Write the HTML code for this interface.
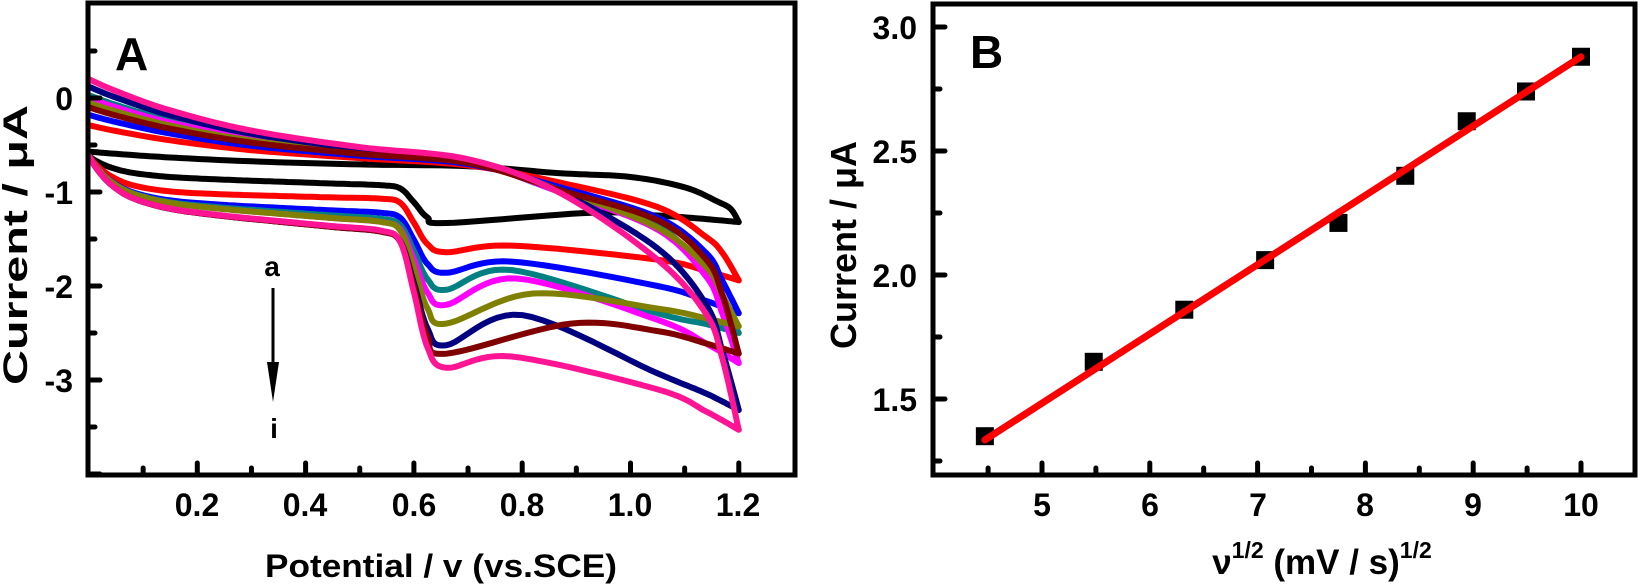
<!DOCTYPE html>
<html><head><meta charset="utf-8"><style>
html,body{margin:0;padding:0;background:#fff}
svg{display:block}
text{font-family:"Liberation Sans",Arial,sans-serif;font-weight:bold;fill:#000}
</style></head><body>
<svg id="s" width="1641" height="586" viewBox="0 0 1641 586" xmlns="http://www.w3.org/2000/svg">
<g id="curves" fill="none" stroke-width="6" stroke-linejoin="round" stroke-linecap="round"></g>
<rect x="88" y="3" width="707" height="472" fill="none" stroke="#000" stroke-width="5"/>
<g id="ticksA" stroke="#000" stroke-width="5" stroke-linecap="round"></g>
<g font-size="32" text-anchor="end">
<text x="73" y="110">0</text><text x="73" y="204">-1</text><text x="73" y="298">-2</text><text x="73" y="392">-3</text>
</g>
<g font-size="32" text-anchor="middle">
<text x="197" y="516">0.2</text><text x="305" y="516">0.4</text><text x="414" y="516">0.6</text><text x="522" y="516">0.8</text><text x="630" y="516">1.0</text><text x="738" y="516">1.2</text>
</g>
<text x="265" y="577" font-size="32" textLength="352" lengthAdjust="spacingAndGlyphs">Potential / v (vs.SCE)</text>
<text transform="translate(27,385) rotate(-90)" font-size="34" textLength="280" lengthAdjust="spacingAndGlyphs">Current / μA</text>
<text x="115" y="70" font-size="46">A</text>
<text x="272" y="276" font-size="28" text-anchor="middle">a</text>
<line x1="273" y1="288" x2="273" y2="372" stroke="#000" stroke-width="3"/>
<polygon points="267,362 279,362 273,402" fill="#000"/>
<text x="274" y="438" font-size="28" text-anchor="middle">i</text>

<rect x="933" y="4" width="702" height="471" fill="none" stroke="#000" stroke-width="5"/>
<g id="ticksB" stroke="#000" stroke-width="5" stroke-linecap="round"></g>
<g font-size="32" text-anchor="end">
<text x="917" y="411">1.5</text><text x="917" y="287">2.0</text><text x="917" y="163">2.5</text><text x="917" y="39">3.0</text>
</g>
<g font-size="32" text-anchor="middle">
<text x="1042" y="516">5</text><text x="1150" y="516">6</text><text x="1258" y="516">7</text><text x="1365" y="516">8</text><text x="1473" y="516">9</text><text x="1581" y="516">10</text>
</g>
<text x="1322" y="574" font-size="35" text-anchor="middle">ν<tspan font-size="23" dy="-16">1/2</tspan><tspan dy="16"> (mV / s)</tspan><tspan font-size="23" dy="-16">1/2</tspan></text>
<text transform="translate(856,245) rotate(-90)" font-size="36" text-anchor="middle">Current / μA</text>
<text x="970" y="68" font-size="46">B</text>
<g id="ptsB"></g>
</svg>
<script>
var NS="http://www.w3.org/2000/svg";
function el(tag,attrs,parent){var e=document.createElementNS(NS,tag);for(var k in attrs)e.setAttribute(k,attrs[k]);parent.appendChild(e);return e;}
function AX(v){return 89+v*541.5;} function AY(v){return 98-v*94;}
var tA=document.getElementById('ticksA');
for(var i=1;i<=12;i++){var x=AX(i*0.1);var L=(i%2==0)?12:7;el('line',{x1:x,y1:475,x2:x,y2:475-L},tA);}
for(var v=0.5;v>=-4.0;v-=0.5){var y=AY(v);var L=(Math.abs(v-Math.round(v))<0.01)?12:7;el('line',{x1:88,y1:y,x2:88+L,y2:y},tA);}
function spline(pts,n){var out=[];for(var i=0;i<pts.length-1;i++){var p0=pts[Math.max(0,i-1)],p1=pts[i],p2=pts[i+1],p3=pts[Math.min(pts.length-1,i+2)];
for(var t=0;t<n;t++){var s=t/n,s2=s*s,s3=s2*s;
var x=0.5*((2*p1[0])+(-p0[0]+p2[0])*s+(2*p0[0]-5*p1[0]+4*p2[0]-p3[0])*s2+(-p0[0]+3*p1[0]-3*p2[0]+p3[0])*s3);
var y=0.5*((2*p1[1])+(-p0[1]+p2[1])*s+(2*p0[1]-5*p1[1]+4*p2[1]-p3[1])*s2+(-p0[1]+3*p1[1]-3*p2[1]+p3[1])*s3);out.push([x,y]);}}
out.push(pts[pts.length-1]);return out;}
var C=[
 {c:'#000000',T0:-0.57,A:0.2,S:0.2,mn:-1.33,xh:0.93,h:-1.22,v105:-1.25,e:-1.32,black:1},
 {c:'#ff0000',T0:-0.29,A:0.37,S:0.15,mn:-1.64,xh:0.78,h:-1.57,v105:-1.72,e:-1.94,u87:-0.9,u105:-1.16,u114:-1.48,u117:-1.65},
 {c:'#0000ff',T0:-0.18,A:0.45,S:0.28,mn:-1.86,xh:0.78,h:-1.74,v105:-2.0,e:-2.29,u87:-0.95,u105:-1.27,u114:-1.65,u117:-1.95},
 {c:'#008080',T0:0.03,A:0.45,S:0.4,mn:-2.04,xh:0.78,h:-1.83,v105:-2.29,e:-2.5,u87:-1.0,u105:-1.35,u114:-1.9,u117:-2.2},
 {c:'#ff00ff',T0:0.0,A:0.45,S:0.46,mn:-2.2,xh:0.79,h:-1.92,v105:-2.36,e:-2.82,u87:-1.0,u105:-1.4,u114:-1.9,u117:-2.3},
 {c:'#808000',T0:-0.05,A:0.45,S:0.46,mn:-2.4,xh:0.82,h:-2.08,v105:-2.24,e:-2.43,u87:-0.98,u105:-1.38,u114:-1.8,u117:-2.1},
 {c:'#000080',T0:0.12,A:0.5,S:0.56,mn:-2.63,xh:0.8,h:-2.31,v105:-2.93,e:-3.32,u87:-1.0,u105:-1.6,u114:-2.2,u117:-2.7},
 {c:'#800000',T0:-0.1,A:0.5,S:0.56,mn:-2.72,xh:0.89,h:-2.4,v105:-2.48,e:-2.72,u87:-0.98,u105:-1.3,u114:-1.72,u117:-2.1},
 {c:'#ff1493',T0:0.2,A:0.5,S:0.54,mn:-2.87,xh:0.78,h:-2.75,v105:-3.1,e:-3.53,u87:-1.01,u105:-1.72,u114:-2.3,u117:-2.78}
];
var g=document.getElementById('curves');
C.forEach(function(k){
 function L0(x){return -0.62-k.A*(1-Math.exp(-x/0.05))-k.S*x;}
 var l54=L0(0.54),D=l54-k.mn;
 var lp=[[0,L0(0)],[0.015,L0(0.015)],[0.04,L0(0.04)],[0.08,L0(0.08)],[0.15,L0(0.15)],[0.25,L0(0.25)],[0.35,L0(0.35)],[0.45,L0(0.45)],[0.54,l54],
   [0.575,L0(0.575)-0.07*D],[0.6,l54-0.45*D],[0.625,l54-0.85*D],[0.66,k.mn],
   [k.xh,k.h],[1.05,k.v105],[1.14,k.v105+(k.e-k.v105)*0.55],[1.2,k.e]];
 var pts=spline(lp,12);
 function U(x){return -0.75+(k.T0+0.75)*Math.exp(-x/0.35);}
 var up;
 if(k.black){up=[[1.2,k.e],[1.185,-1.18],[1.16,-1.1],[1.1,-0.95],[1.0,-0.84],[0.87,-0.8],[0.7,U(0.7)],[0.5,U(0.5)],[0.3,U(0.3)],[0.15,U(0.15)],[0.05,U(0.05)],[0,k.T0]];}
 else up=[[1.2,k.e],[1.17,k.u117],[1.14,k.u114],[1.05,k.u105],[0.87,k.u87],[0.7,U(0.7)-0.03],[0.5,U(0.5)],[0.3,U(0.3)],[0.15,U(0.15)],[0.05,U(0.05)],[0,k.T0]];
 pts=pts.concat(spline(up,12).slice(1));
 var d='M'+pts.map(function(p){return AX(p[0]).toFixed(1)+','+AY(p[1]).toFixed(1);}).join(' L');
 el('path',{d:d,stroke:k.c},g);
});
function BX(v){return 1042+(v-5)*107.8;} function BY(v){return 399-(v-1.5)*248;}
var tB=document.getElementById('ticksB');
for(var v=4.5;v<=10.01;v+=0.5){var x=BX(v);var L=(Math.abs(v-Math.round(v))<0.01)?12:7;el('line',{x1:x,y1:475,x2:x,y2:475-L},tB);}
for(var v=1.25;v<=3.01;v+=0.25){var y=BY(v);var L=(Math.abs(v*2-Math.round(v*2))<0.01)?12:7;el('line',{x1:933,y1:y,x2:933+L,y2:y},tB);}
var pb=document.getElementById('ptsB');
var P=[[4.47,1.35],[5.48,1.65],[6.32,1.86],[7.07,2.06],[7.75,2.21],[8.37,2.40],[8.94,2.62],[9.49,2.74],[10,2.88]];
P.forEach(function(p){el('rect',{x:BX(p[0])-9,y:BY(p[1])-9,width:18,height:18,fill:'#000'},pb);});
el('line',{x1:BX(4.47),y1:BY(1.335),x2:BX(10),y2:BY(2.88),stroke:'#ff0000','stroke-width':7,'stroke-linecap':'round'},pb);
</script>
</body></html>
